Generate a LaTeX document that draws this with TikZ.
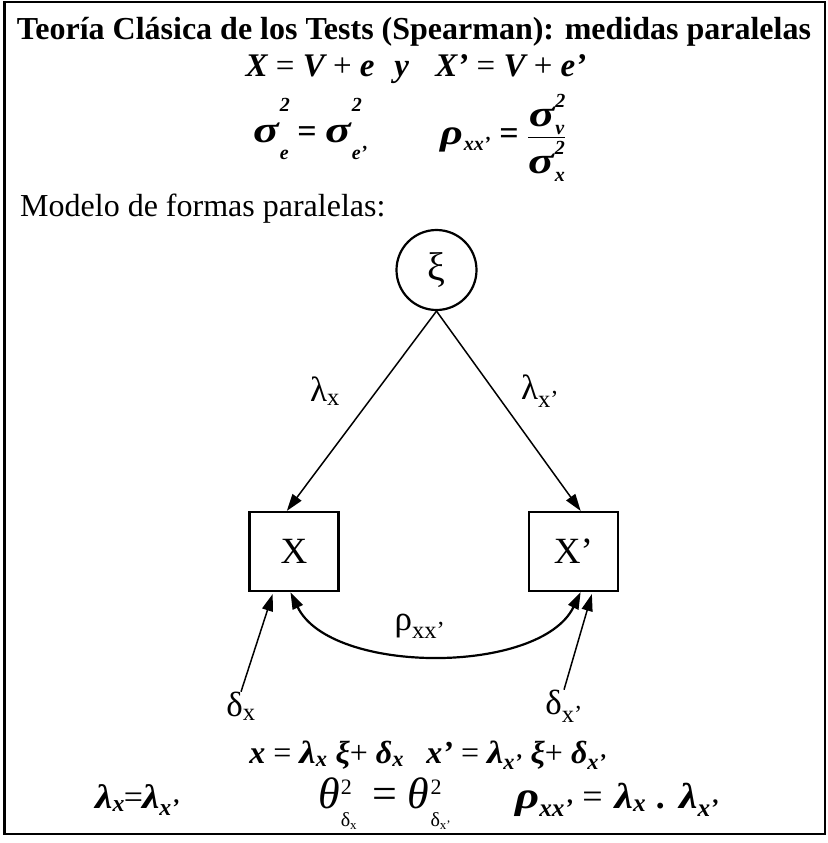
\documentclass[tikz,border=0pt]{standalone}
\usepackage{amsmath}
\usepackage{graphicx}
\usepackage{fontspec}
\setmainfont{Liberation Serif}
\usetikzlibrary{arrows.meta,positioning}

\newcommand{\up}[1]{{\normalfont #1}}
\newcommand{\sub}[1]{\textsubscript{#1}}
\newcommand{\scr}{\fontsize{20}{22}\selectfont}
\newcommand{\wsig}{\scalebox{1.4}[1.1]{σ}}
\newcommand{\wrho}{\scalebox{1.3}[1.05]{ρ}}
\newcommand{\wlam}{\scalebox{1.15}[1]{λ}}
% base, super, sub, raise, lower
\newcommand{\sps}[5]{{#1}\kern1pt\rlap{\raisebox{#4}{\scr #2}}\raisebox{-#5}{\scr #3}}

\begin{document}
\begin{tikzpicture}[
  x=1pt, y=-1pt,
  latent/.style={circle, draw, line width=2.2pt, minimum size=80pt, inner sep=0pt,
                 font=\fontsize{40}{44}\selectfont},
  observed/.style={rectangle, draw, line width=2.2pt, minimum width=89pt,
                   minimum height=79pt, font=\fontsize{37}{42}\selectfont},
  arr/.style={-{Triangle[length=17pt, width=11pt]}, line width=1.5pt},
  corr/.style={{Triangle[length=17pt, width=11pt]}-{Triangle[length=17pt, width=11pt]},
               line width=2.2pt},
  lab/.style={font=\fontsize{35}{40}\selectfont, inner sep=0pt},
  eq/.style={font=\fontsize{34}{40}\selectfont\bfseries\itshape, inner sep=0pt}
]
\useasboundingbox (0,0) rectangle (827,843);
\draw[line width=2.5pt] (4.5,2) rectangle (825,834);

% texto de cabecera
\node[lab, font=\fontsize{32}{38}\selectfont\bfseries, anchor=base] (title) at (414,40)
  {Teoría Clásica de los Tests (Spearman): medidas paralelas};
\node[eq, font=\fontsize{33}{38}\selectfont\bfseries\itshape, anchor=base] (defs) at (416,77)
  {X \up{=} V \up{+} e\hspace{0.6em}y\hspace{0.8em}X’ \up{=} V \up{+} e’};
\node[eq, anchor=base west] (vareq) at (253,142)
  {\sps{\wsig}{2}{e}{31pt}{17pt} = \sps{\wsig}{2}{e'}{31pt}{17pt}};
\node[eq, anchor=base west] (releq) at (440,144)
  {\sps{\wrho}{}{xx'}{0pt}{6pt} = $\dfrac{\text{\sps{\wsig}{2}{v}{19pt}{8pt}}}{\text{\sps{\wsig}{2}{x}{19pt}{8pt}}}$};
\node[lab, font=\fontsize{32}{38}\selectfont, anchor=base west] (model) at (20,216)
  {Modelo de formas paralelas:};

% modelo
\node[latent] (xi) at (436.5,270) {ξ};
\node[observed] (X)  at (294,551.5) {X};
\node[observed] (Xp) at (573.5,551.5) {X’};

\draw[arr] (xi.south) -- (X.100);
\draw[arr] (xi.south) -- (Xp.80);
\node[lab] (lx)  at (325,391) {λ\sub{x}};
\node[lab] (lxp) at (540,391) {λ\sub{x’}};

\draw[corr] (X.-95) .. controls +(40,83) and +(-40,83) .. (Xp.-80);
\node[lab] (rho) at (420,626) {ρ\sub{xx’}};

\node[lab] (dx)  at (241,706) {δ\sub{x}};
\node[lab] (dxp) at (564,706) {δ\sub{x’}};
\draw[arr, shorten >=2pt] (dx.north)  -- (X.-117);
\draw[arr, shorten >=2pt] (dxp.north) -- (Xp.-65);

% ecuaciones
\node[eq, font=\fontsize{32}{38}\selectfont\bfseries\itshape, anchor=base] (meas) at (428,763)
  {x \up{=} \wlam\sub{x} ξ\up{+} δ\sub{x}\hspace{0.7em}x’ \up{=} \wlam\sub{x’} ξ\up{+} δ\sub{x’}};
\node[eq, anchor=base west] (lameq) at (95,808) {\wlam\sub{x}\kern-1pt\up{=}\kern-1pt\wlam\sub{x’}};
\node[lab, font=\fontsize{44}{46}\selectfont, anchor=base west] (theq) at (318,808)
  {\sps{\itshape θ}{\fontsize{22}{22}\selectfont 2}{δ\raisebox{-3pt}{\fontsize{13}{13}\selectfont x}}{14pt}{18pt}%
   \hspace{0.35em}=\hspace{0.25em}%
   \sps{\itshape θ}{\fontsize{22}{22}\selectfont 2}{δ\raisebox{-3pt}{\fontsize{13}{13}\selectfont x’}}{14pt}{18pt}};
\node[eq, font=\fontsize{36}{40}\selectfont\bfseries\itshape, anchor=base west] (rhoeq) at (515,808)
  {\wrho\sub{xx’}\hspace{9pt}\up{=}\hspace{12pt}\wlam\sub{x}\hspace{11pt}.\hspace{13pt}\wlam\sub{x’}};
\end{tikzpicture}
\end{document}
